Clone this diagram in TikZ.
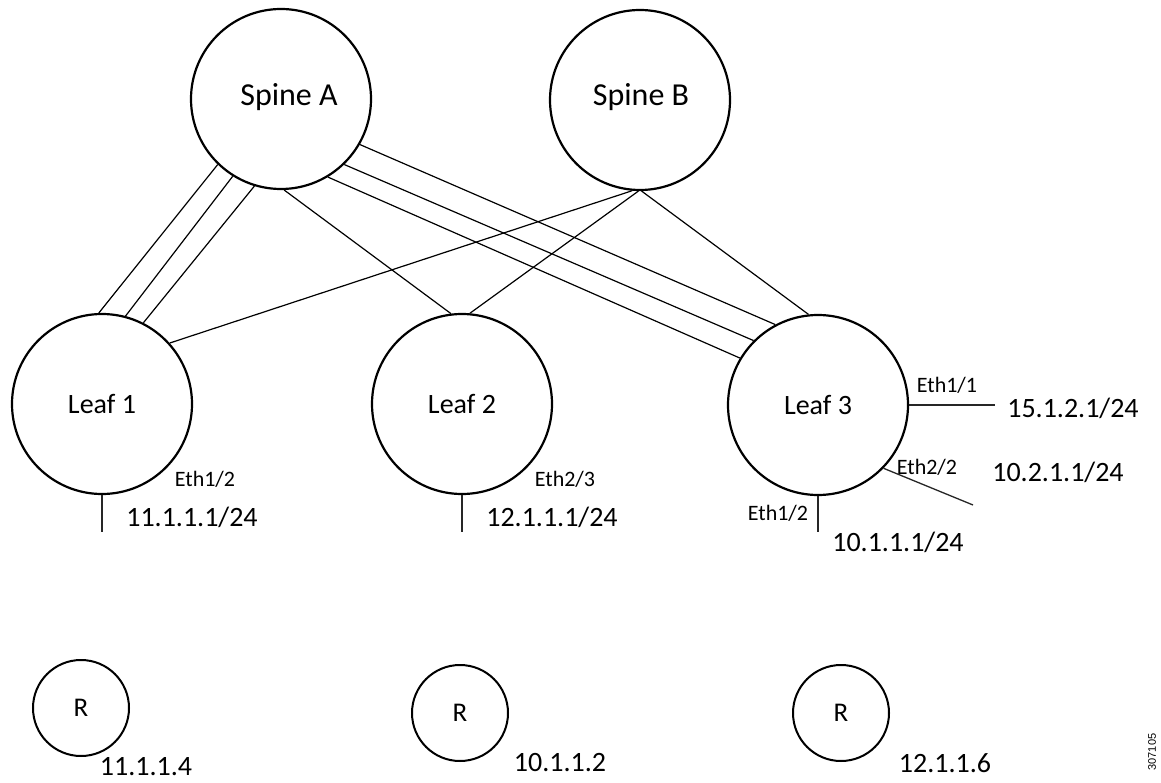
\documentclass[tikz,border=0pt]{standalone}
\usepackage{fontspec}
\setmainfont{Carlito}
\newfontfamily\tagfont{Liberation Sans}
\begin{document}
\begin{tikzpicture}[x=1pt,y=-1pt,
  big/.style={circle,draw,line width=2.2pt,minimum size=180pt,inner sep=0pt,font=\fontsize{28}{30}\selectfont},
  small/.style={circle,draw,line width=2pt,minimum size=96pt,inner sep=0pt,font=\fontsize{27}{30}\selectfont},
  lbl/.style={font=\fontsize{32}{34}\selectfont,inner sep=0pt},
  link/.style={line width=1.2pt},
  stub/.style={line width=1.3pt,draw=black!85},
  eth/.style={font=\fontsize{22}{24}\selectfont,inner sep=0pt},
  ip/.style={font=\fontsize{28}{30}\selectfont,inner sep=0pt},
]
\useasboundingbox (0,0) rectangle (1161,783);
\fill[white] (0,0) rectangle (1161,783);

% spine and leaf circles
\node[big] (spA) at (281,99) {};
\node[lbl] (spAt) at (289,97) {Spine A};
\node[big] (spB) at (640,100) {};
\node[lbl] (spBt) at (641,97) {Spine B};
\node[big] (l1) at (102,404) {Leaf 1};
\node[big] (l2) at (462,404) {Leaf 2};
\node[big] (l3) at (818,405) {Leaf 3};

% R circles
\node[small] (r1) at (81,708) {R};
\node[small] (r2) at (460,713) {R};
\node[small] (r3) at (841,713) {R};

% spine A - leaf 1 (three links)
\draw[link] (l1.92.5) -- (spA.226.7);
\draw[link] (l1.75.5) -- (spA.238);
\draw[link] (l1.63.4) -- (spA.253);
% spine A - leaf 2
\draw[link] (spA.272.5) -- (l2.97.5);
% spine A - leaf 3 (three links)
\draw[link] (spA.330.7) -- (l3.118.8);
\draw[link] (spA.314) -- (l3.135);
\draw[link] (spA.301) -- (l3.149.6);
% spine B links
\draw[link] (spB.265.7) -- (l1.42.4);
\draw[link] (spB.269) -- (l2.85);
\draw[link] (spB.271) -- (l3.96);

% interface stubs
\coordinate (s1) at (102,532);
\coordinate (s2) at (462,532);
\coordinate (s3) at (818,532);
\coordinate (s4) at (995,405);
\coordinate (s5) at (973,505);
\draw[stub] (l1.south) -- (s1);
\draw[stub] (l2.south) -- (s2);
\draw[stub] (l3.south) -- (s3);
\draw[stub] (l3.east) -- (s4);
\draw[stub] (l3.-44.6) -- (s5);

% interface labels
\node[eth] (e1) at (205,479) {Eth1/2};
\node[eth] (e2) at (565,479) {Eth2/3};
\node[eth] (e3) at (947,385) {Eth1/1};
\node[eth] (e4) at (927,467) {Eth2/2};
\node[eth] (e5) at (778,513) {Eth1/2};

% addresses
\node[ip] (a1) at (192,517) {11.1.1.1/24};
\node[ip] (a2) at (552,517) {12.1.1.1/24};
\node[ip] (a3) at (1073,408) {15.1.2.1/24};
\node[ip] (a4) at (1058,472) {10.2.1.1/24};
\node[ip] (a5) at (898,542) {10.1.1.1/24};
\node[ip] (a6) at (146,767) {11.1.1.4};
\node[ip] (a7) at (560,763) {10.1.1.2};
\node[ip] (a8) at (945,763) {12.1.1.6};

% figure tag
\node[rotate=90,font=\tagfont\fontsize{11}{12}\selectfont,inner sep=0pt] (tag) at (1152,752) {307105};
\end{tikzpicture}
\end{document}
